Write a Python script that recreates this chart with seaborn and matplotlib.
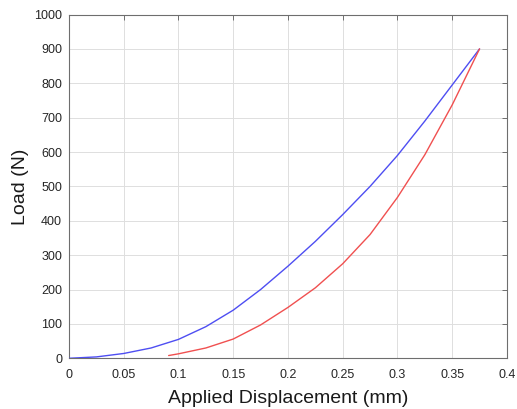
import matplotlib
matplotlib.use("Agg")
import matplotlib.pyplot as plt
import seaborn as sns
import pandas as pd

# Loading curve (blue)
load_disp = [0.0, 0.025, 0.05, 0.075, 0.1, 0.125, 0.15, 0.175, 0.2, 0.225, 0.25, 0.275, 0.3, 0.325, 0.35, 0.375]
load_force = [0, 4, 14, 30, 55, 92, 140, 200, 268, 340, 418, 500, 590, 690, 795, 900]

# Unloading curve (red)
unload_disp = [0.091, 0.1, 0.125, 0.15, 0.175, 0.2, 0.225, 0.25, 0.275, 0.3, 0.325, 0.35, 0.375]
unload_force = [8, 13, 30, 56, 97, 148, 205, 275, 360, 468, 592, 737, 900]

x_ticks = [0, 0.05, 0.1, 0.15, 0.2, 0.25, 0.3, 0.35, 0.4]
x_tick_labels = ["0", "0.05", "0.1", "0.15", "0.2", "0.25", "0.3", "0.35", "0.4"]
y_ticks = [0, 100, 200, 300, 400, 500, 600, 700, 800, 900, 1000]

df = pd.concat([
    pd.DataFrame({"disp": load_disp, "force": load_force, "curve": "loading"}),
    pd.DataFrame({"disp": unload_disp, "force": unload_force, "curve": "unloading"}),
], ignore_index=True)

sns.set_style("white")
plt.rcParams["font.family"] = ["Liberation Sans", "DejaVu Sans"]

fig = plt.figure(figsize=(5.17, 4.09), dpi=100)
ax = fig.add_axes([0.1335, 0.124, 0.847, 0.8405])

sns.lineplot(data=df, x="disp", y="force", hue="curve", sort=False,
             palette={"loading": "#4e4ef2", "unloading": "#f05050"},
             linewidth=1.0, legend=False, ax=ax, zorder=3)

ax.set_xlim(0, 0.4)
ax.set_ylim(0, 1000)
ax.set_xticks(x_ticks)
ax.set_xticklabels(x_tick_labels)
ax.set_yticks(y_ticks)
ax.grid(True, color="#dedede", linewidth=0.7)
ax.set_axisbelow(True)

for s in ax.spines.values():
    s.set_visible(True)
    s.set_color("#6e6e6e")
    s.set_linewidth(0.8)

ax.tick_params(axis="both", which="both", direction="in", length=3.5, width=0.7,
               color="#6e6e6e", top=True, right=True, labelsize=9,
               labelcolor="#262626", pad=5)
ax.tick_params(axis="x", pad=8)

ax.set_xlabel("Applied Displacement (mm)", fontsize=14, color="#1a1a1a", labelpad=6)
ax.set_ylabel("Load (N)", fontsize=14, color="#1a1a1a", labelpad=4)

fig.savefig("out.png", dpi=100)
